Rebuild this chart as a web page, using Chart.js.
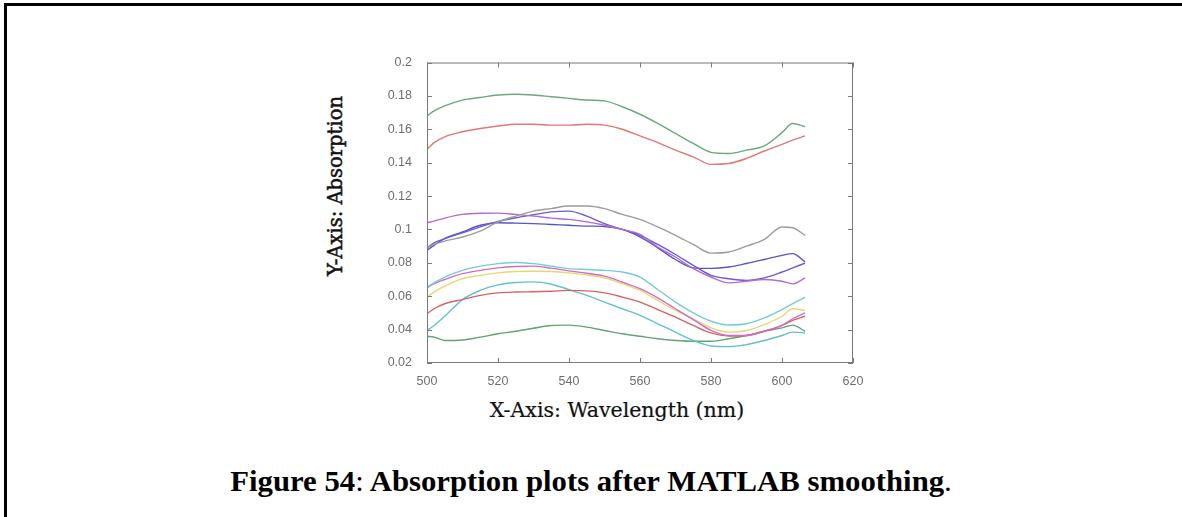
<!DOCTYPE html>
<html>
<head>
<meta charset="utf-8">
<script src="https://cdn.jsdelivr.net/npm/chart.js@4.4.0/dist/chart.umd.min.js"></script>
<style>
  html, body { margin: 0; padding: 0; background: #fff; overflow: hidden; }
  body { width: 1182px; height: 517px; position: relative; }
  #frame { position: absolute; left: 4px; top: 3px; width: 1400px; height: 700px; border: 3px solid #000; }
  #box { position: absolute; left: 360px; top: 48px; width: 520px; height: 345px; }
  .ytitle { position: absolute; left: 335px; top: 186px; transform: translate(-50%, -50%) rotate(-90deg);
            font-family: "DejaVu Serif", serif; font-size: 19.5px; color: #111; white-space: nowrap;
            -webkit-text-stroke: 0.5px #111; }
  .xtitle { position: absolute; left: 617px; top: 410px; transform: translate(-50%, -50%);
            font-family: "DejaVu Serif", serif; font-size: 20.5px; color: #111; white-space: nowrap;
            -webkit-text-stroke: 0.2px #111; }
  .caption { position: absolute; left: 591px; top: 481px; transform: translate(-50%, -50%) scaleX(1.06);
             font-family: "Liberation Serif", "Times New Roman", serif; font-size: 29px; font-weight: bold; color: #000; white-space: nowrap; }
  .caption span { font-weight: normal; }
</style>
</head>
<body>
<div id="frame"></div>
<div id="box"><canvas id="myChart" width="520" height="345"></canvas></div>
<div class="ytitle">Y-Axis: Absorption</div>
<div class="xtitle">X-Axis: Wavelength (nm)</div>
<div class="caption">Figure 54<span>:</span> Absorption plots after MATLAB smoothing<span>.</span></div>
<script>
// wavelength samples (nm)
const wavelength = [500, 502, 505, 510, 515, 520, 525, 530, 535, 540, 545, 550, 555, 560, 565, 570, 575, 580, 585, 590, 595, 600, 603, 606.5]

// absorption curves
const greenTop = [0.168, 0.171, 0.174, 0.1775, 0.179, 0.1805, 0.181, 0.1805, 0.1795, 0.1785, 0.1775, 0.177, 0.1735, 0.169, 0.1635, 0.1575, 0.1515, 0.1462, 0.1455, 0.1475, 0.150, 0.158, 0.1635, 0.1615]
const redTop = [0.148, 0.152, 0.1555, 0.1585, 0.1605, 0.162, 0.163, 0.163, 0.1625, 0.1625, 0.163, 0.1625, 0.160, 0.156, 0.152, 0.1475, 0.1435, 0.139, 0.1395, 0.1425, 0.147, 0.151, 0.1535, 0.156]
const gray = [0.089, 0.091, 0.093, 0.0955, 0.099, 0.1045, 0.108, 0.111, 0.1125, 0.114, 0.114, 0.1125, 0.109, 0.106, 0.1015, 0.0965, 0.091, 0.0858, 0.0865, 0.090, 0.094, 0.1015, 0.101, 0.0965]
const purple = [0.104, 0.105, 0.1068, 0.109, 0.1097, 0.1098, 0.109, 0.108, 0.1068, 0.106, 0.1045, 0.1025, 0.100, 0.097, 0.0895, 0.0835, 0.0765, 0.0715, 0.068, 0.069, 0.070, 0.069, 0.0674, 0.071]
const blue1 = [0.089, 0.092, 0.0945, 0.098, 0.1015, 0.1048, 0.107, 0.1088, 0.1105, 0.111, 0.108, 0.1035, 0.100, 0.0965, 0.091, 0.085, 0.0785, 0.0725, 0.0705, 0.0695, 0.071, 0.0745, 0.077, 0.0798]
const blue2 = [0.0875, 0.0905, 0.0945, 0.0985, 0.1025, 0.104, 0.1038, 0.1035, 0.103, 0.1025, 0.102, 0.1018, 0.100, 0.0955, 0.089, 0.082, 0.077, 0.0767, 0.0775, 0.0796, 0.082, 0.0845, 0.0855, 0.0806]
const cyan1 = [0.0655, 0.068, 0.0715, 0.0755, 0.078, 0.0795, 0.0802, 0.0795, 0.078, 0.0765, 0.076, 0.0755, 0.0745, 0.0715, 0.064, 0.0565, 0.050, 0.045, 0.0428, 0.0435, 0.047, 0.052, 0.0555, 0.0595]
const magenta = [0.065, 0.0675, 0.070, 0.0735, 0.0755, 0.077, 0.0778, 0.078, 0.0768, 0.0752, 0.0738, 0.072, 0.0685, 0.0645, 0.059, 0.0525, 0.046, 0.0395, 0.0365, 0.0365, 0.039, 0.0425, 0.0465, 0.050]
const yellow = [0.0595, 0.0625, 0.066, 0.0705, 0.0725, 0.074, 0.0748, 0.075, 0.0748, 0.074, 0.0728, 0.071, 0.0675, 0.0635, 0.0575, 0.0515, 0.0465, 0.041, 0.0385, 0.0395, 0.043, 0.048, 0.0525, 0.0515]
const redLow = [0.0495, 0.0525, 0.0555, 0.058, 0.0605, 0.062, 0.0625, 0.0627, 0.063, 0.0635, 0.0632, 0.062, 0.0595, 0.0565, 0.052, 0.0475, 0.0425, 0.038, 0.0362, 0.0365, 0.039, 0.0425, 0.0455, 0.048]
const cyan2 = [0.0395, 0.0425, 0.048, 0.058, 0.0635, 0.0668, 0.0682, 0.0686, 0.0672, 0.064, 0.0605, 0.0565, 0.0525, 0.0485, 0.0435, 0.0385, 0.0335, 0.0302, 0.0298, 0.031, 0.0335, 0.0365, 0.0385, 0.038]
const greenLow = [0.036, 0.0355, 0.0335, 0.0338, 0.0355, 0.0375, 0.039, 0.0408, 0.0425, 0.0427, 0.0415, 0.0395, 0.0375, 0.036, 0.0345, 0.0335, 0.033, 0.033, 0.0345, 0.0365, 0.039, 0.041, 0.0427, 0.039]

const yTicks = [0.02, 0.04, 0.06, 0.08, 0.1, 0.12, 0.14, 0.16, 0.18, 0.2]
const xTicks = [500, 520, 540, 560, 580, 600, 620]

const series = [
    [greenTop, '#6aaa7a'],
    [redTop, '#e07878'],
    [gray, '#9c9c9c'],
    [purple, '#b46ad2'],
    [blue1, '#6a5ad6'],
    [blue2, '#5656c4'],
    [cyan1, '#74ccd4'],
    [magenta, '#d46cc6'],
    [yellow, '#e6d86e'],
    [redLow, '#d86262'],
    [cyan2, '#62c2cc'],
    [greenLow, '#62a472']
]

const datasets = series.map(function (s) {
    return {
        data: s[0].map(function (v, i) { return { x: wavelength[i], y: v } }),
        borderColor: s[1],
        borderWidth: 1.4,
        pointRadius: 0,
        fill: false,
        tension: 0.4,
        cubicInterpolationMode: 'monotone'
    }
})

// MATLAB style box with inward ticks on all four sides
const boxTicks = {
    id: 'boxTicks',
    afterDraw: function (chart) {
        const c = chart.ctx
        const a = chart.chartArea
        const xs = chart.scales.x
        const ys = chart.scales.y
        c.save()
        c.strokeStyle = '#7a7a7a'
        c.lineWidth = 1
        c.strokeRect(a.left + 0.5, a.top + 0.5, a.right - a.left - 1, a.bottom - a.top - 1)
        c.beginPath()
        xTicks.forEach(function (t) {
            const px = Math.round(xs.getPixelForValue(t)) + 0.5
            c.moveTo(px, a.bottom); c.lineTo(px, a.bottom - 5)
            c.moveTo(px, a.top); c.lineTo(px, a.top + 5)
        })
        yTicks.forEach(function (t) {
            const py = Math.round(ys.getPixelForValue(t)) + 0.5
            c.moveTo(a.left, py); c.lineTo(a.left + 5, py)
            c.moveTo(a.right, py); c.lineTo(a.right - 5, py)
        })
        c.stroke()
        c.restore()
    }
}

const tickFont = { family: '"Liberation Sans", Arial, sans-serif', size: 12.5 }

var ctx = document.getElementById('myChart').getContext('2d');
var chart = new Chart(ctx, {
    type: 'line',
    data: { datasets: datasets },
    plugins: [boxTicks],
    options: {
        responsive: false,
        animation: false,
        layout: { padding: { top: 10, right: 27, left: 0, bottom: 0 } },
        plugins: { legend: { display: false }, tooltip: { enabled: false } },
        scales: {
            x: {
                type: 'linear',
                min: 500,
                max: 620,
                afterFit: function (s) { s.height = 30 },
                afterBuildTicks: function (s) { s.ticks = xTicks.map(function (v) { return { value: v } }) },
                grid: { display: false },
                border: { display: false },
                ticks: { color: '#6e6e6e', font: tickFont, padding: 3, maxRotation: 0 }
            },
            y: {
                min: 0.02,
                max: 0.2,
                afterFit: function (s) { s.width = 67 },
                afterBuildTicks: function (s) { s.ticks = yTicks.map(function (v) { return { value: v } }) },
                grid: { display: false },
                border: { display: false },
                ticks: {
                    color: '#6e6e6e', font: tickFont, padding: 7,
                    callback: function (v) { return String(+v.toFixed(2)) }
                }
            }
        }
    }
});
</script>
</body>
</html>
